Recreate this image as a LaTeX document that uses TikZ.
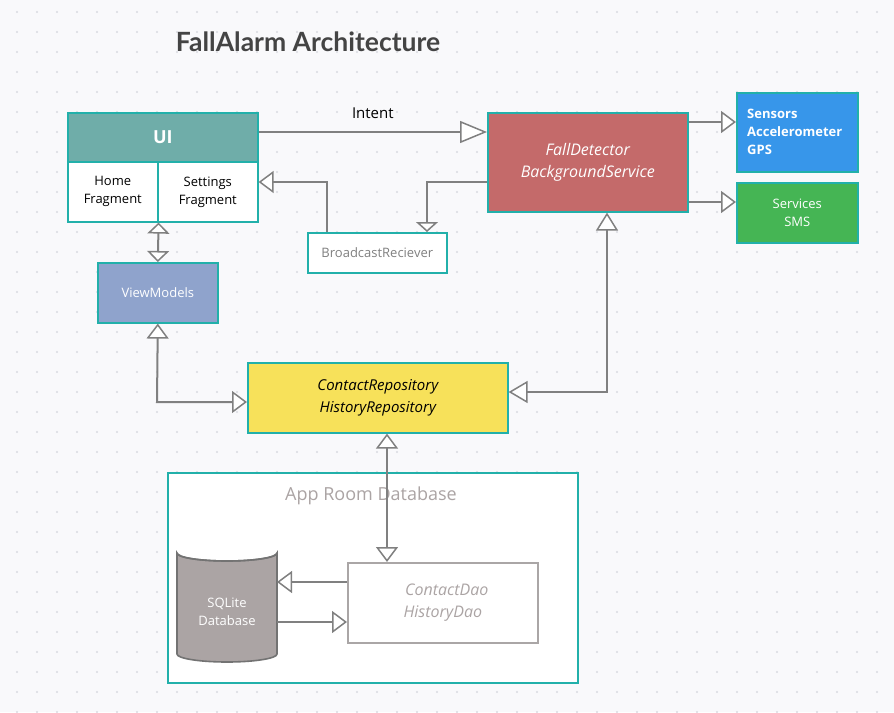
\documentclass[tikz,border=0pt]{standalone}
\usepackage{fontspec}
\setmainfont{Open Sans}
\newfontfamily\latofont{Lato}
\usetikzlibrary{arrows.meta}
\definecolor{bgc}{HTML}{F9F9FB}
\definecolor{dotc}{HTML}{D9DAE0}
\definecolor{teal}{HTML}{22B0AA}
\definecolor{uihead}{HTML}{6FADA9}
\definecolor{fdred}{HTML}{C46A6A}
\definecolor{sensblue}{HTML}{3796EA}
\definecolor{servgreen}{HTML}{45B554}
\definecolor{vmblue}{HTML}{8FA3CC}
\definecolor{repoyel}{HTML}{F7E15A}
\definecolor{lgray}{HTML}{808080}
\definecolor{dbgray}{HTML}{ABA4A4}
\definecolor{daogray}{HTML}{AAA6A6}
\definecolor{titlec}{HTML}{444444}
\tikzset{
  px/.style={x=1pt,y=-1pt},
  box/.style={draw=teal,line width=1.6pt,inner sep=0pt,anchor=north west},
  conn/.style={draw=lgray,line width=2pt},
  tri/.style={-{Triangle[length=#1,width=22pt,fill=white,line width=1.5pt]}},
  tri/.default=15pt,
  tritri/.style={{Triangle[length=#1,width=22pt,fill=white,line width=1.5pt]}-{Triangle[length=#1,width=22pt,fill=white,line width=1.5pt]}},
  tritri/.default=15pt,
  lbl/.style={font=\fontsize{13}{18}\selectfont,align=center},
}
\begin{document}
\begin{tikzpicture}[px]
\useasboundingbox (0,0) rectangle (894,712);
\fill[bgc] (0,0) rectangle (894,712);
\foreach \i in {0,...,44}{\foreach \j in {0,...,35}{
  \fill[dotc] ({17+20*\i},{12+20*\j}) circle (1.1pt);}}
% title
\node[font=\latofont\bfseries\fontsize{26.5}{30}\selectfont,text=titlec] (title) at (308,42) {FallAlarm Architecture};
% UI
\node[box,fill=uihead,minimum width=190pt,minimum height=49pt] (uihead) at (67,112) {};
\node[font=\bfseries\fontsize{18}{22}\selectfont,text=white] (uitxt) at (uihead.center) {UI};
\node[box,fill=white,minimum width=90pt,minimum height=60pt,lbl] (home) at (67,161) {Home\\Fragment};
\node[box,fill=white,minimum width=100pt,minimum height=60pt,lbl] (settings) at (157,161) {Settings\\Fragment};
% fall detector
\node[box,fill=fdred,minimum width=200pt,minimum height=99pt,text=white,font=\itshape\fontsize{16}{22}\selectfont,align=center] (fd) at (487,112) {FallDetector\\BackgroundService};
% sensors
\node[box,fill=sensblue,minimum width=121pt,minimum height=79pt] (sens) at (736,92) {};
\node[anchor=west,text=white,font=\bfseries\fontsize{13}{18}\selectfont,align=left,inner sep=0pt] (senstxt) at (747,132) {Sensors\\Accelerometer\\GPS};
% services
\node[box,fill=servgreen,minimum width=121pt,minimum height=60pt,text=white,lbl] (serv) at (736,182) {Services\\SMS};
% broadcast
\node[box,fill=white,minimum width=139pt,minimum height=40pt,text=lgray,font=\fontsize{13}{16}\selectfont] (bc) at (307,232) {BroadcastReciever};
% viewmodels
\node[box,fill=vmblue,minimum width=120pt,minimum height=60pt,text=white,font=\fontsize{13}{16}\selectfont] (vm) at (97,262) {ViewModels};
% repository
\node[box,fill=repoyel,minimum width=260pt,minimum height=70pt,font=\itshape\fontsize{15}{22}\selectfont,align=center] (repo) at (247,362) {ContactRepository\\HistoryRepository};
% app room database
\node[box,fill=white,minimum width=410pt,minimum height=210pt] (room) at (167,472) {};
\node[text=dbgray,font=\fontsize{18}{22}\selectfont] (roomtxt) at (371,496) {App Room Database};
% dao
\node[draw=daogray,line width=1.6pt,fill=white,anchor=north west,inner sep=0pt,minimum width=190pt,minimum height=80pt,text=dbgray,font=\itshape\fontsize{16}{22}\selectfont,align=center] (dao) at (347,562) {\hspace*{8pt}ContactDao\\HistoryDao};
% cylinder
\filldraw[fill=dbgray,draw=lgray!90!black,line width=1.6pt] (177,553) -- (177,654) arc[start angle=180,end angle=360,x radius=50,y radius=-8] -- (277,553) arc[start angle=0,end angle=-180,x radius=50,y radius=-8] -- cycle;
\draw[lgray!90!black,line width=1.6pt] (177,553) arc[start angle=180,end angle=360,x radius=50,y radius=-8];
\node[text=white,lbl,minimum width=100pt,minimum height=90pt,inner sep=0pt] (db) at (227,612) {SQLite\\Database};
% connectors
\coordinate (fdbc) at (427,182);
\coordinate (bcui) at (327,182);
\coordinate (vmrepo) at (157,402);
\coordinate (repofd) at (607,392);
\draw[conn,tri=27pt] (uihead.east |- 0,132) -- node[above=9pt,text=black,font=\fontsize{15}{18}\selectfont] (intent) {Intent} (fd.west |- 0,132);
\draw[conn,tri] (fd.east |- 0,122) -- (sens.west |- 0,122);
\draw[conn,tri] (fd.east |- 0,202) -- (serv.west |- 0,202);
\draw[conn,tri=10pt] (fd.west |- fdbc) -- (fdbc) -- (fdbc |- bc.north);
\draw[conn,tri] (bcui |- bc.north) -- (bcui) -- (settings.east |- bcui);
\draw[conn,tritri=11pt] (vm.north) -- (home.south east);
\draw[conn,tritri] (vm.south) -- (vmrepo) -- (repo.west |- vmrepo);
\draw[conn,{Triangle[length=19pt,width=22pt,fill=white,line width=1.5pt]}-{Triangle[length=18pt,width=22pt,fill=white,line width=1.5pt]}] (repo.east |- repofd) -- (repofd) -- (repofd |- fd.south);
\draw[conn,tritri] (repo.south -| 387,0) -- (dao.north -| 387,0);
\draw[conn,tri] (dao.west |- 0,582) -- (277,582);
\draw[conn,tri] (277,622) -- (dao.west |- 0,622);
\end{tikzpicture}
\end{document}
